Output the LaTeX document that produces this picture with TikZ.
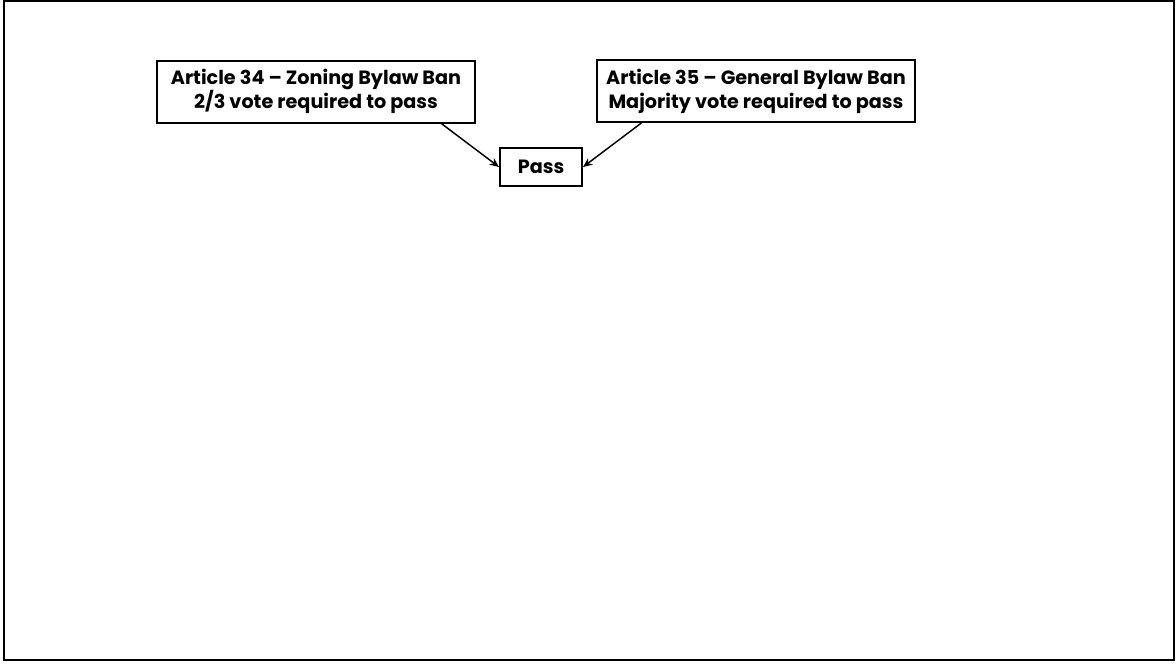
\documentclass[tikz,border=0pt]{standalone}
\usepackage{fontspec}
\setmainfont{Poppins}
\usetikzlibrary{arrows.meta}
\tikzstyle{rule} = [draw,line width=1.5pt,inner sep=0pt,align=center,font=\fontsize{14.4}{18}\selectfont\bfseries]
\tikzstyle{arrow} = [line width=1.1pt,-{Stealth[length=7pt,width=6pt]}]

\begin{document}
\begin{tikzpicture}[x=0.75pt,y=-0.75pt]

        \useasboundingbox (0,0) rectangle (1176,664);

        % outer frame
        \draw[line width=1.5pt] (4,1) rectangle (1174,660);

        % Zoning bylaw rule
        \node[rule,minimum width=238.5pt,minimum height=46.5pt] (art34) at (316,91.5)
            {Article 34 -- Zoning Bylaw Ban\\2/3 vote required to pass};

        % General bylaw rule
        \node[rule,minimum width=238.5pt,minimum height=46.5pt] (art35) at (756,91)
            {Article 35 -- General Bylaw Ban\\Majority vote required to pass};

        % Outcome
        \node[rule,minimum width=61.5pt,minimum height=28.5pt] (pass) at (541,167) {Pass};

        % arrows into the outcome
        \draw[arrow] ([xshift=-26pt]art34.south east) -- (pass.west);   % 34 -> Pass
        \draw[arrow] ([xshift=34pt]art35.south west) -- (pass.east);    % 35 -> Pass

\end{tikzpicture}
\end{document}
